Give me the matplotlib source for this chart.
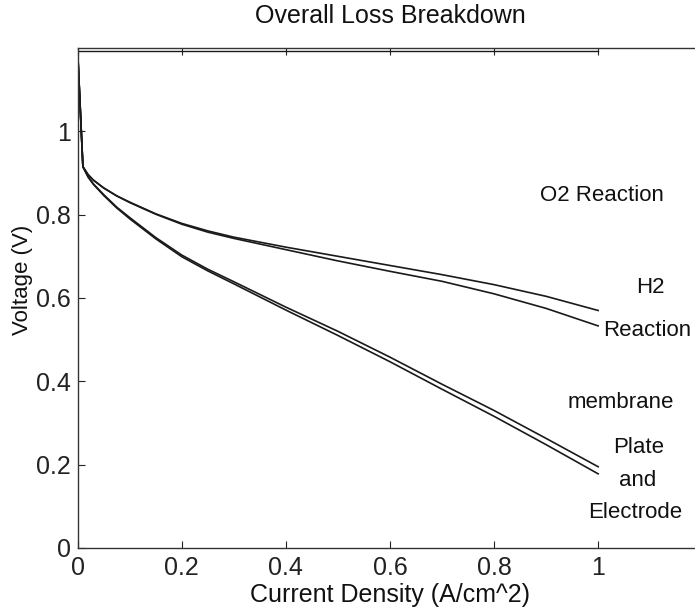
import matplotlib
matplotlib.use("Agg")
import matplotlib.pyplot as plt

plt.rcParams['font.family'] = ['Liberation Sans', 'DejaVu Sans']

# current density (A/cm^2)
current = [0, 0.01, 0.02, 0.03, 0.05, 0.075, 0.1, 0.15, 0.2, 0.25, 0.3, 0.4, 0.5, 0.6, 0.7, 0.8, 0.9, 1.0]

# cell voltage after each loss (V)
v_o2 = [1.19, 0.915, 0.896, 0.883, 0.864, 0.845, 0.830, 0.802, 0.779, 0.761, 0.746, 0.722, 0.700, 0.678, 0.656, 0.632, 0.604, 0.570]
v_h2 = [1.19, 0.915, 0.896, 0.883, 0.864, 0.845, 0.829, 0.801, 0.777, 0.758, 0.743, 0.716, 0.689, 0.664, 0.640, 0.610, 0.575, 0.533]
v_membrane = [1.19, 0.915, 0.891, 0.874, 0.848, 0.818, 0.793, 0.745, 0.703, 0.669, 0.639, 0.578, 0.520, 0.458, 0.393, 0.330, 0.263, 0.195]
v_plate = [1.19, 0.915, 0.890, 0.873, 0.846, 0.816, 0.790, 0.742, 0.699, 0.665, 0.634, 0.571, 0.510, 0.447, 0.381, 0.316, 0.248, 0.178]

# ideal (no loss) voltage
ideal_x = [0, 1.0]
ideal_v = [1.193, 1.193]

labels = ["O2 Reaction", "H2", "Reaction", "membrane", "Plate", "and", "Electrode"]
label_x = [1.008, 1.100, 1.095, 1.043, 1.077, 1.075, 1.072]
label_y = [0.847, 0.624, 0.523, 0.350, 0.240, 0.163, 0.084]

xticks = [0, 0.2, 0.4, 0.6, 0.8, 1]
yticks = [0, 0.2, 0.4, 0.6, 0.8, 1]

fig = plt.figure(figsize=(6.95, 6.08), dpi=100)
ax = fig.add_axes([0.1118, 0.0987, 0.8986, 0.8224])

lc = '#1a1a1a'
ax.plot(ideal_x, ideal_v, color=lc, linewidth=1.0)
for v in [v_o2, v_h2, v_membrane, v_plate]:
    ax.plot(current, v, color=lc, linewidth=1.2)

for t, x, y in zip(labels, label_x, label_y):
    ax.text(x, y, t, ha='center', va='center', fontsize=16, color='#111111')

ax.set_xlim(0, 1.2)
ax.set_ylim(0, 1.2)
ax.set_xticks(xticks)
ax.set_xticklabels(['0', '0.2', '0.4', '0.6', '0.8', '1'])
ax.set_yticks(yticks)
ax.set_yticklabels(['0', '0.2', '0.4', '0.6', '0.8', '1'])
ax.tick_params(direction='in', length=5, width=0.8, top=True, right=True,
               labelsize=18, colors='#222222', pad=5)
ax.tick_params(axis='x', pad=6)
for s in ax.spines.values():
    s.set_linewidth(1.0)
    s.set_color('#333333')

ax.set_title('Overall Loss Breakdown', fontsize=18, pad=18, color='#111111')
ax.set_xlabel('Current Density (A/cm^2)', fontsize=18, color='#111111', labelpad=2)
ax.set_ylabel('Voltage (V)', fontsize=16, color='#111111')
ax.yaxis.set_label_coords(-0.072, 0.536)

fig.savefig('out.png', dpi=100)
